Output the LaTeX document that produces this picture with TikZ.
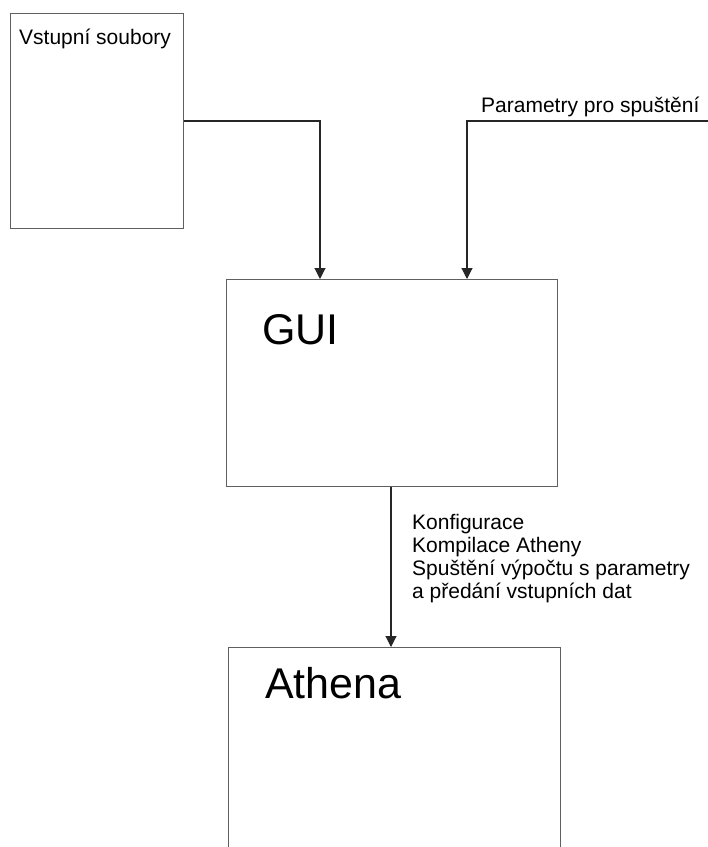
\documentclass[tikz,border=0pt]{standalone}
\usepackage{fontspec}
\setmainfont{Liberation Sans}
\usetikzlibrary{arrows.meta}
\definecolor{linegray}{RGB}{95,95,95}
\tikzset{
  box/.style={draw=linegray, line width=1.2pt, rectangle, inner sep=0pt, anchor=north west},
  conn/.style={draw=black!85, line width=1.1pt},
  arr/.style={conn, -{Triangle[width=11pt,length=11pt]}},
  smalltext/.style={font=\fontsize{21}{23}\selectfont, inner sep=0pt},
  bigtext/.style={font=\fontsize{43}{48}\selectfont, inner sep=0pt, anchor=base west},
}
\begin{document}
\begin{tikzpicture}[x=1pt, y=-1pt]
  \useasboundingbox (0,0) rectangle (708,847);
  \clip (0,0) rectangle (708,847);
  \fill[white] (0,0) rectangle (708,847);
  % boxes
  \node[box, minimum width=173pt, minimum height=215pt] (vstup) at (10,13) {};
  \node[box, minimum width=331pt, minimum height=207pt] (gui) at (226,279) {};
  \node[box, minimum width=332pt, minimum height=300pt] (athena) at (228,647) {};
  % texts
  \node[smalltext, anchor=base west] (vstuptext) at (19,44) {Vstupní soubory};
  \node[bigtext] (guitext) at (262,344) {GUI};
  \node[bigtext] (athenatext) at (265,698) {Athena};
  \node[smalltext, anchor=base west] (paramtext) at (481,112) {Parametry pro spuštění};
  \node[smalltext, anchor=north west, align=left] (label) at (412,514)
    {Konfigurace\\Kompilace Atheny\\Spuštění výpočtu s parametry\\a předání vstupních dat};
  % connector coordinates
  \coordinate (c1) at (320,121);
  \coordinate (pstart) at (708,121);
  \coordinate (c2) at (467,121);
  % connectors
  \draw[arr] (vstup.east |- c1) -- (c1) -- (c1 |- gui.north);
  \draw[arr] (pstart) -- (c2) -- (c2 |- gui.north);
  \draw[arr] (gui.south -| 391,0) -- (athena.north -| 391,0);
\end{tikzpicture}
\end{document}
